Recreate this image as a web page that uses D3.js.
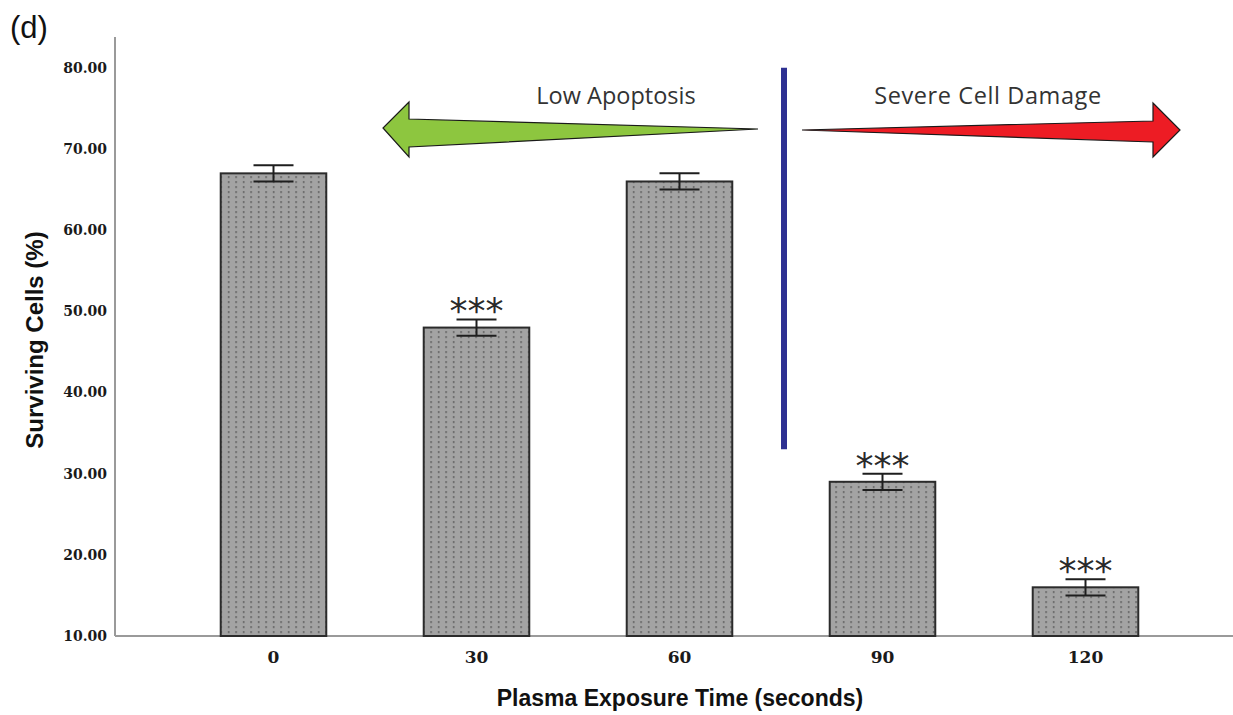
<!DOCTYPE html>
<html>
<head>
<meta charset="utf-8">
<script src="https://cdn.jsdelivr.net/npm/d3@7"></script>
<style>
  body { margin: 0; background: #fff; }
  svg { display: block; }
</style>
</head>
<body>
<script>
// chart data
var categories = ["0", "30", "60", "90", "120"];
var survival = [67, 48, 66, 29, 16];
var errors = [1, 1, 1, 1, 1];
var stars = ["", "***", "", "***", "***"];
var yTicks = [10, 20, 30, 40, 50, 60, 70, 80];

var w = 1233, h = 715;
var svg = d3.select("body").append("svg")
    .attr("width", w)
    .attr("height", h);

// dotted fill for the bars
var defs = svg.append("defs");
var pat = defs.append("pattern")
    .attr("id", "dots")
    .attr("patternUnits", "userSpaceOnUse")
    .attr("width", 7.5)
    .attr("height", 5);
pat.append("rect").attr("width", 7.5).attr("height", 5).attr("fill", "#a3a3a3");
pat.append("rect").attr("x", 3).attr("y", 1).attr("width", 1.3).attr("height", 2.2).attr("fill", "#5e5e5e");

var x = d3.scaleBand()
    .domain(categories)
    .range([172, 1187])
    .paddingInner(0.48)
    .paddingOuter(0.24);

var y = d3.scaleLinear()
    .domain([10, 83.8])
    .range([636, 37]);

// axis lines
svg.append("line")
    .attr("x1", 115).attr("x2", 115)
    .attr("y1", y(83.8)).attr("y2", y(10))
    .attr("stroke", "#9a9a9a").attr("stroke-width", 2);
svg.append("line")
    .attr("x1", 115).attr("x2", w)
    .attr("y1", y(10)).attr("y2", y(10))
    .attr("stroke", "#9a9a9a").attr("stroke-width", 2);

// y axis labels
var yAxis = svg.append("g")
    .attr("transform", "translate(115,0)")
    .call(d3.axisLeft(y).tickValues(yTicks).tickSize(0).tickPadding(8)
        .tickFormat(function(d){ return d.toFixed(2); }));
yAxis.select(".domain").remove();
yAxis.selectAll("text")
    .attr("font-family", "'DejaVu Serif', serif")
    .attr("font-weight", "bold")
    .attr("font-size", 14)
    .attr("fill", "#1a1a1a");

// x axis labels
var xAxis = svg.append("g")
    .attr("transform", "translate(0," + y(10) + ")")
    .call(d3.axisBottom(x).tickSize(0).tickPadding(15));
xAxis.select(".domain").remove();
xAxis.selectAll("text")
    .attr("font-family", "'DejaVu Serif', serif")
    .attr("font-weight", "bold")
    .attr("font-size", 17)
    .attr("fill", "#1a1a1a");

// bars
svg.selectAll(".bar")
    .data(survival)
    .enter()
    .append("rect")
    .attr("class", "bar")
    .attr("x", function(d, i){ return x(categories[i]); })
    .attr("y", function(d){ return y(d); })
    .attr("width", x.bandwidth())
    .attr("height", function(d){ return y(10) - y(d); })
    .attr("fill", "url(#dots)")
    .attr("stroke", "#2b2b2b")
    .attr("stroke-width", 2);

// error bars
var capW = 40;
var eb = svg.selectAll(".err")
    .data(survival)
    .enter()
    .append("g")
    .attr("class", "err")
    .attr("stroke", "#1e1e1e")
    .attr("stroke-width", 2);
eb.append("line")
    .attr("x1", function(d, i){ return x(categories[i]) + x.bandwidth() / 2; })
    .attr("x2", function(d, i){ return x(categories[i]) + x.bandwidth() / 2; })
    .attr("y1", function(d, i){ return y(d + errors[i]); })
    .attr("y2", function(d, i){ return y(d - errors[i]); });
eb.append("line")
    .attr("x1", function(d, i){ return x(categories[i]) + x.bandwidth() / 2 - capW / 2; })
    .attr("x2", function(d, i){ return x(categories[i]) + x.bandwidth() / 2 + capW / 2; })
    .attr("y1", function(d, i){ return y(d + errors[i]); })
    .attr("y2", function(d, i){ return y(d + errors[i]); });
eb.append("line")
    .attr("x1", function(d, i){ return x(categories[i]) + x.bandwidth() / 2 - capW / 2; })
    .attr("x2", function(d, i){ return x(categories[i]) + x.bandwidth() / 2 + capW / 2; })
    .attr("y1", function(d, i){ return y(d - errors[i]); })
    .attr("y2", function(d, i){ return y(d - errors[i]); });

// significance stars
svg.selectAll(".star")
    .data(survival)
    .enter()
    .append("text")
    .attr("class", "star")
    .attr("x", function(d, i){ return x(categories[i]) + x.bandwidth() / 2; })
    .attr("y", function(d, i){ return y(d + errors[i]) + 4; })
    .attr("text-anchor", "middle")
    .attr("font-family", "'DejaVu Sans', sans-serif")
    .attr("font-size", 36)
    .attr("fill", "#2a2a2a")
    .text(function(d, i){ return stars[i]; });

// divider line between 60 and 90
var midX = (x("60") + x("90")) / 2 + x.bandwidth() / 2 + 3;
svg.append("line")
    .attr("x1", midX).attr("x2", midX)
    .attr("y1", y(80)).attr("y2", y(33))
    .attr("stroke", "#2e3192").attr("stroke-width", 6);

// arrows
svg.append("path")
    .attr("d", "M758,129 L409,119 L409,102 L383,128 L409,157 L409,147 Z")
    .attr("fill", "#8dc63f")
    .attr("stroke", "#1a1a1a")
    .attr("stroke-width", 1.2)
    .attr("stroke-linejoin", "miter");
svg.append("path")
    .attr("d", "M802,130 L1153,121 L1153,103 L1180,130 L1153,157 L1153,142 Z")
    .attr("fill", "#ed1c24")
    .attr("stroke", "#1a1a1a")
    .attr("stroke-width", 1.2)
    .attr("stroke-linejoin", "miter");

svg.append("text")
    .attr("x", 616).attr("y", 104)
    .attr("text-anchor", "middle")
    .attr("font-family", "'Open Sans', sans-serif")
    .attr("font-size", 23.5)
    .attr("fill", "#333333")
    .text("Low Apoptosis");
svg.append("text")
    .attr("x", 988).attr("y", 104)
    .attr("text-anchor", "middle")
    .attr("font-family", "'Open Sans', sans-serif")
    .attr("font-size", 23.5)
    .attr("letter-spacing", 0.6)
    .attr("fill", "#333333")
    .text("Severe Cell Damage");

// axis titles
svg.append("text")
    .attr("transform", "translate(43,340) rotate(-90)")
    .attr("text-anchor", "middle")
    .attr("font-family", "'Liberation Sans', Arial, sans-serif")
    .attr("font-weight", "bold")
    .attr("font-size", 24)
    .attr("fill", "#111")
    .text("Surviving Cells (%)");
svg.append("text")
    .attr("x", 680).attr("y", 706)
    .attr("text-anchor", "middle")
    .attr("font-family", "'Liberation Sans', Arial, sans-serif")
    .attr("font-weight", "bold")
    .attr("font-size", 23)
    .attr("fill", "#111")
    .text("Plasma Exposure Time (seconds)");

// panel label
svg.append("text")
    .attr("x", 10).attr("y", 38)
    .attr("font-family", "'Liberation Sans', Arial, sans-serif")
    .attr("font-size", 31)
    .attr("fill", "#111")
    .text("(d)");
</script>
</body>
</html>
